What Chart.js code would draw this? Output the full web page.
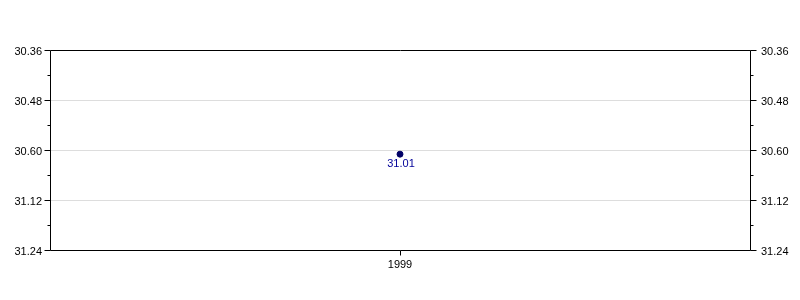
<!DOCTYPE html>
<html>
<head>
<meta charset="utf-8">
<script src="https://cdn.jsdelivr.net/npm/chart.js@4/dist/chart.umd.min.js"></script>
<style>
html,body{margin:0;padding:0;background:#fff;}
#wrap{width:800px;height:300px;position:relative;}
</style>
</head>
<body>
<div id="wrap"><canvas id="c" width="800" height="300"></canvas></div>
<script>
// Categories (years)
const categories = ['1999'];
// Series values: race time in seconds (31:01 => 1861 s)
const timeSeconds = [1861];
// Labels shown next to the points
const pointLabels = ['31.01'];
// Y-axis range / tick labels (minutes.seconds as printed on the chart)
const yMin = 1836, yMax = 1884, yStep = 12;
const yTickLabels = ['30.36', '30.48', '30.60', '31.12', '31.24'];

const FONT = '"Liberation Sans", Arial, sans-serif';

function majorIndex(value) {
  const k = (value - yMin) / yStep;
  return Math.abs(k - Math.round(k)) < 1e-6 ? Math.round(k) : -1;
}
function yTickCallback(value) {
  const i = majorIndex(value);
  return i >= 0 ? yTickLabels[i] : '';
}

const framePlugin = {
  id: 'frame',
  afterDraw(chart) {
    const ctx = chart.ctx, a = chart.chartArea;
    ctx.save();
    ctx.strokeStyle = '#000';
    ctx.lineWidth = 1;
    // box
    ctx.beginPath();
    ctx.moveTo(a.left + 0.5, a.top + 0.5);
    ctx.lineTo(a.right + 0.5, a.top + 0.5);
    ctx.lineTo(a.right + 0.5, a.bottom + 0.5);
    ctx.lineTo(a.left + 0.5, a.bottom + 0.5);
    ctx.closePath();
    ctx.stroke();
    // y ticks (major + minor), both sides
    const ys = chart.scales.y;
    ctx.beginPath();
    ys.ticks.forEach(t => {
      const py = Math.round(ys.getPixelForValue(t.value)) + 0.5;
      const len = majorIndex(t.value) >= 0 ? 6 : 3;
      ctx.moveTo(a.left + 0.5 - len, py);
      ctx.lineTo(a.left + 0.5, py);
      ctx.moveTo(a.right + 0.5, py);
      ctx.lineTo(a.right + 0.5 + len, py);
    });
    // x ticks
    const xs = chart.scales.x;
    categories.forEach((c, i) => {
      const px = Math.round(xs.getPixelForValue(i)) + 0.5;
      ctx.moveTo(px, a.bottom + 0.5);
      ctx.lineTo(px, a.bottom + 5.5);
    });
    ctx.stroke();
    // point value labels
    const meta = chart.getDatasetMeta(0);
    ctx.fillStyle = '#000099';
    ctx.font = '11px ' + FONT;
    ctx.textAlign = 'center';
    ctx.textBaseline = 'middle';
    meta.data.forEach((pt, i) => {
      ctx.fillText(pointLabels[i], pt.x + 1, pt.y + 10);
    });
    ctx.restore();
  }
};

new Chart(document.getElementById('c'), {
  type: 'line',
  data: {
    labels: categories,
    datasets: [{
      data: timeSeconds,
      borderColor: '#000066',
      backgroundColor: '#000066',
      pointRadius: 3,
      pointBorderWidth: 1,
      showLine: false
    }]
  },
  options: {
    responsive: false,
    animation: false,
    layout: { padding: { top: 50, left: 0, right: 0, bottom: 0 } },
    plugins: { legend: { display: false }, tooltip: { enabled: false } },
    scales: {
      x: {
        type: 'category',
        offset: true,
        grid: { display: false, drawTicks: false },
        border: { display: false },
        ticks: { color: '#000', font: { size: 11, family: FONT }, padding: 8, maxRotation: 0 },
        afterFit(s) { s.height = 50; }
      },
      y: {
        position: 'left',
        reverse: true,
        min: yMin, max: yMax,
        grid: {
          drawTicks: false,
          color: ctx => (ctx.tick && majorIndex(ctx.tick.value) >= 0 && ctx.index !== 0 && ctx.index !== 8) ? '#dddddd' : 'rgba(0,0,0,0)'
        },
        border: { display: false },
        ticks: { stepSize: yStep / 2, callback: yTickCallback, color: '#000', font: { size: 11, family: FONT }, padding: 8, labelOffset: 2, autoSkip: false },
        afterFit(s) { s.width = 50; }
      },
      y2: {
        position: 'right',
        reverse: true,
        min: yMin, max: yMax,
        grid: { display: false, drawTicks: false },
        border: { display: false },
        ticks: { stepSize: yStep / 2, callback: yTickCallback, color: '#000', font: { size: 11, family: FONT }, padding: 11, labelOffset: 2, autoSkip: false },
        afterFit(s) { s.width = 50; }
      }
    }
  },
  plugins: [framePlugin]
});
</script>
</body>
</html>
